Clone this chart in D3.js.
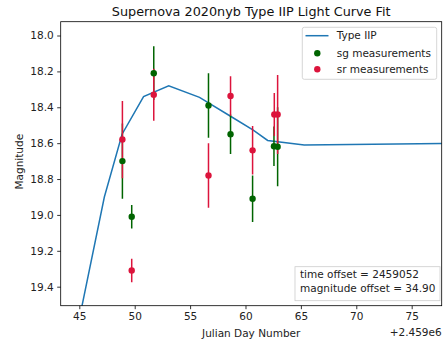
<!DOCTYPE html>
<html>
<head>
<meta charset="utf-8">
<script src="https://cdn.jsdelivr.net/npm/d3@7"></script>
<style>
  body { margin: 0; background: #fff; }
  svg { display: block; font-family: "DejaVu Sans", sans-serif; }
</style>
</head>
<body>
<svg id="chart"></svg>
<script>
// page size
var width = 445;
var height = 346;
var padding = { top: 21.7, right: 3.3, bottom: 40.3, left: 60.7 };

// days are relative to 2.459e6
var curveDays = [45.0, 47.26, 48.86, 50.8, 53.07, 55.85, 58.65, 60.7, 62.0, 65.3, 78.5];
var curveMag = [19.58, 18.9, 18.55, 18.34, 18.28, 18.345, 18.45, 18.527, 18.585, 18.61, 18.602];

var sgDays = [48.89, 49.73, 51.72, 56.66, 58.65, 60.64, 62.57, 62.9];
var sgMag = [18.70, 19.01, 18.21, 18.39, 18.55, 18.91, 18.617, 18.62];
var sgErr = [0.21, 0.065, 0.15, 0.18, 0.11, 0.13, 0.11, 0.22];

var srDays = [48.89, 49.73, 51.72, 56.66, 58.65, 60.64, 62.6, 62.9];
var srMag = [18.58, 19.31, 18.33, 18.78, 18.337, 18.64, 18.44, 18.44];
var srErr = [0.215, 0.065, 0.145, 0.18, 0.11, 0.135, 0.12, 0.22];

var xTicks = [45, 50, 55, 60, 65, 70, 75];
var yTicks = [18.0, 18.2, 18.4, 18.6, 18.8, 19.0, 19.2, 19.4];

var titleText = "Supernova 2020nyb Type IIP Light Curve Fit";
var xLabel = "Julian Day Number";
var yLabel = "Magnitude";
var offsetText = "+2.459e6";
var legendLabels = ["Type IIP", "sg measurements", "sr measurements"];
var infoLines = ["time offset = 2459052", "magnitude offset = 34.90"];

var blue = "#1f77b4", green = "#006400", red = "#dc143c";
var fs = "10.5px";

var svg = d3.select("#chart")
	.attr("width", width)
	.attr("height", height);

var x0 = padding.left, x1 = width - padding.right;
var y0 = padding.top, y1 = height - padding.bottom;

var xScale = d3.scaleLinear().domain([43.32, 77.71]).range([x0, x1]);
// magnitude axis is inverted: small at top
var yScale = d3.scaleLinear().domain([17.923, 19.506]).range([y0, y1]);

svg.append("defs").append("clipPath").attr("id", "clip")
	.append("rect")
	.attr("x", x0).attr("y", y0)
	.attr("width", x1 - x0).attr("height", y1 - y0);

var plot = svg.append("g").attr("clip-path", "url(#clip)");

// model curve
var curveData = curveDays.map(function(d, i){ return { x: d, y: curveMag[i] }; });
var linePath = d3.line().x(d => xScale(d.x)).y(d => yScale(d.y));
plot.append("path")
	.datum(curveData)
	.attr("d", linePath)
	.attr("fill", "none")
	.attr("stroke", blue)
	.attr("stroke-width", 1.5);

function makeSeries(days, mag, err){
	return days.map(function(d, i){ return { x: d, y: mag[i], e: err[i] }; });
}
var sgData = makeSeries(sgDays, sgMag, sgErr);
var srData = makeSeries(srDays, srMag, srErr);

// error bars first, markers on top (like matplotlib zorder)
function drawBars(data, color){
	plot.append("g").selectAll("line")
		.data(data)
		.enter()
		.append("line")
		.attr("x1", d => xScale(d.x))
		.attr("x2", d => xScale(d.x))
		.attr("y1", d => yScale(d.y - d.e))
		.attr("y2", d => yScale(d.y + d.e))
		.attr("stroke", color)
		.attr("stroke-width", 1.5);
}
function drawDots(data, color){
	plot.append("g").selectAll("circle")
		.data(data)
		.enter()
		.append("circle")
		.attr("cx", d => xScale(d.x))
		.attr("cy", d => yScale(d.y))
		.attr("r", 3.2)
		.attr("fill", color);
}
drawBars(sgData, green);
drawBars(srData, red);
drawDots(sgData, green);
drawDots(srData, red);

// axes
var xAxis = d3.axisBottom(xScale).tickValues(xTicks).tickSize(3.5).tickPadding(3.5).tickFormat(d3.format("d"));
var gx = svg.append("g")
	.attr("transform", "translate(0," + y1 + ")")
	.call(xAxis);
var yAxis = d3.axisLeft(yScale).tickValues(yTicks).tickSize(3.5).tickPadding(3.5).tickFormat(d3.format(".1f"));
var gy = svg.append("g")
	.attr("transform", "translate(" + x0 + ",0)")
	.call(yAxis);
[gx, gy].forEach(function(g){
	g.select(".domain").remove();
	g.selectAll("line").attr("stroke", "#000").attr("stroke-width", 0.8);
	g.selectAll("text").attr("fill", "#222").style("font-size", fs).style("font-family", "DejaVu Sans");
});

// frame
svg.append("rect")
	.attr("x", x0).attr("y", y0)
	.attr("width", x1 - x0).attr("height", y1 - y0)
	.attr("fill", "none")
	.attr("stroke", "#000")
	.attr("stroke-width", 0.8);

// title and labels
svg.append("text")
	.text(titleText)
	.attr("x", (x0 + x1) / 2).attr("y", 16)
	.attr("text-anchor", "middle")
	.style("font-size", "12.8px")
	.attr("fill", "#111");
svg.append("text")
	.text(xLabel)
	.attr("x", (x0 + x1) / 2).attr("y", 337)
	.attr("text-anchor", "middle")
	.style("font-size", fs)
	.attr("fill", "#222");
svg.append("text")
	.text(offsetText)
	.attr("x", x1).attr("y", 336.2)
	.attr("text-anchor", "end")
	.style("font-size", fs)
	.attr("fill", "#222");
svg.append("text")
	.text(yLabel)
	.attr("transform", "translate(19," + ((y0 + y1) / 2 - 2) + ") rotate(-90)")
	.attr("dy", "0.35em")
	.attr("text-anchor", "middle")
	.style("font-size", fs)
	.attr("fill", "#222");

// legend
var legend = svg.append("g");
legend.append("rect")
	.attr("x", 302.3).attr("y", 27.3)
	.attr("width", 134.4).attr("height", 52)
	.attr("rx", 2)
	.attr("fill", "#fff").attr("fill-opacity", 0.8)
	.attr("stroke", "#cccccc").attr("stroke-width", 0.8);
var rowY = [35.7, 53.3, 69.3];
legend.append("line")
	.attr("x1", 305.5).attr("x2", 328.5)
	.attr("y1", rowY[0]).attr("y2", rowY[0])
	.attr("stroke", blue).attr("stroke-width", 1.5);
legend.append("circle").attr("cx", 317.3).attr("cy", rowY[1]).attr("r", 3.2).attr("fill", green);
legend.append("circle").attr("cx", 317.3).attr("cy", rowY[2]).attr("r", 3.2).attr("fill", red);
legend.selectAll("text.lab")
	.data(legendLabels)
	.enter()
	.append("text")
	.attr("class", "lab")
	.text(d => d)
	.attr("x", 336.7)
	.attr("y", (d, i) => rowY[i])
	.attr("dy", "0.35em")
	.style("font-size", fs)
	.attr("fill", "#222");

// info box
var info = svg.append("g");
info.append("rect")
	.attr("x", 295).attr("y", 266.7)
	.attr("width", 145).attr("height", 34)
	.attr("fill", "#fff").attr("fill-opacity", 0.8)
	.attr("stroke", "#cccccc").attr("stroke-width", 0.8);
info.selectAll("text")
	.data(infoLines)
	.enter()
	.append("text")
	.text(d => d)
	.attr("x", 300)
	.attr("y", (d, i) => 274.2 + i * 14.3)
	.attr("dy", "0.35em")
	.style("font-size", fs)
	.attr("fill", "#222");
</script>
</body>
</html>
